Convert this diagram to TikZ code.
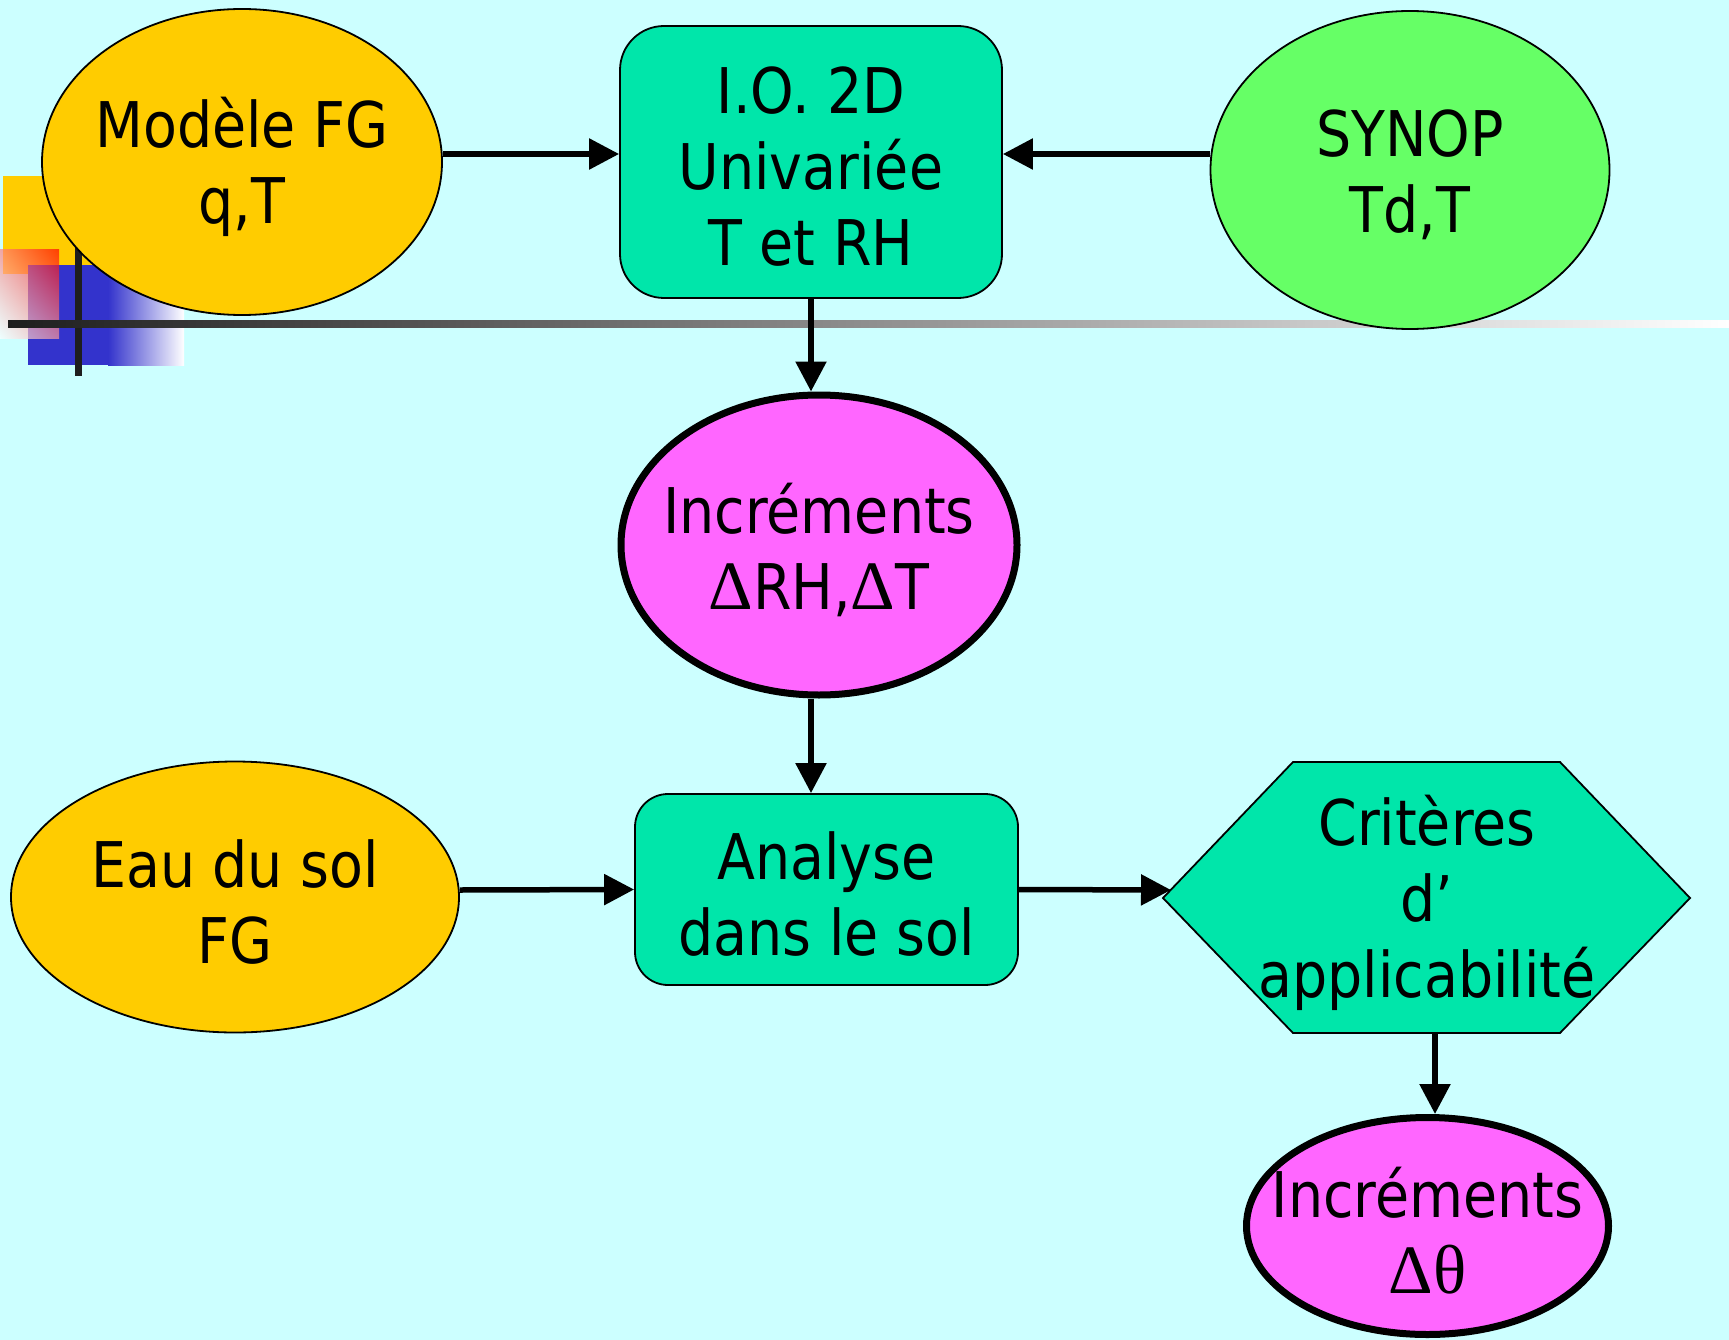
\documentclass[tikz,border=0pt]{standalone}
\usepackage{fontspec}
\setmainfont{DejaVu Sans}[FakeStretch=0.88]
\newfontfamily\grk{Liberation Serif}[Scale=1.1]
\usetikzlibrary{shapes.geometric,arrows.meta,shadings}
\definecolor{bgc}{HTML}{CCFFFF}
\definecolor{yel}{HTML}{FFCC00}
\definecolor{tealbox}{HTML}{00E6AA}
\definecolor{grn}{HTML}{66FF66}
\definecolor{mag}{HTML}{FF66FF}
\definecolor{blu}{HTML}{3333CC}
\definecolor{ink}{HTML}{1E1E1E}
\begin{document}
\begin{tikzpicture}[x=1pt,y=-1pt,
  lbl/.style={align=center,font=\fontsize{63}{76}\selectfont,inner sep=0pt,text=black,yshift=-5pt},
  oval/.style={ellipse,draw=black,line width=1.8pt,inner sep=0pt},
  bigoval/.style={ellipse,draw=black,line width=7pt,inner sep=0pt,fill=mag},
  box/.style={rectangle,draw=black,line width=1.8pt,inner sep=0pt,fill=tealbox},
  link/.style={line width=5.5pt,-{Triangle[length=30pt,width=30pt]}}]

% canvas
\fill[bgc] (0,0) rectangle (1729,1340);
\useasboundingbox (0,0) rectangle (1729,1340);

% corner ornament: squares, gradient bars and crossing lines
\fill[yel] (3,176) rectangle (101,274);
\fill[blu] (28,265) rectangle (109,365);
\shade[left color=blu, right color=white] (108,265) rectangle (184,365);
\shade[upper left=red!50!white, upper right=red, lower left=white, lower right=red!40!white, opacity=0.68]
  (0,250) rectangle (59,338);
\fill[ink] (75,200) rectangle (82,376);
\shade[left color=ink, right color=white] (8,320) rectangle (1729,327);

% upper row
\node[oval, fill=yel, minimum width=400pt, minimum height=306pt] (fg) at (242,162) {};
\node[lbl] (fg-t) at (fg) {Modèle FG\\q,T};

\node[box, rounded corners=44pt, minimum width=382pt, minimum height=272pt] (io) at (811,162) {};
\node[lbl] (io-t) at (io) {I.O. 2D\\Univariée\\T et RH};

\node[oval, fill=grn, minimum width=399pt, minimum height=318pt] (syn) at (1410,170) {};
\node[lbl] (syn-t) at (syn) {SYNOP\\Td,T};

% increments of the screen-level analysis
\node[bigoval, minimum width=396pt, minimum height=300pt] (inc1) at (819,545) {};
\node[lbl] (inc1-t) at (inc1) {Incréments\\{\grk Δ}RH,{\grk Δ}T};

% lower row
\node[oval, fill=yel, minimum width=448pt, minimum height=271pt] (eau) at (235,897) {};
\node[lbl] (eau-t) at (eau) {Eau du sol\\FG};

\node[box, rounded corners=33pt, minimum width=383pt, minimum height=191pt] (an) at (826.5,889.5) {};
\node[lbl] (an-t) at (an) {Analyse\\dans le sol};

% applicability hexagon
\coordinate (hexL) at (1163,898);
\coordinate (hexR) at (1690,898);
\fill[tealbox, draw=black, line width=1.8pt]
  (hexL) -- (1293,762) -- (1560,762) -- (hexR) -- (1560,1033) -- (1293,1033) -- cycle;
\coordinate (hexC) at (1427,898);
\coordinate (hexA) at (1171,890);
\coordinate (hexS) at (1435,1033);
\node[lbl] (crit-t) at (hexC) {Critères\\d’\\applicabilité};

\node[bigoval, minimum width=362pt, minimum height=217pt] (inc2) at (1427.5,1226) {};
\node[lbl] (inc2-t) at (inc2) {Incréments\\{\grk Δθ}};

% connectors
\draw[link] ([yshift=8pt]fg.east) -- ([yshift=8pt]io.west);
\draw[link] ([yshift=16pt]syn.west) -- ([yshift=8pt]io.east);
\draw[link] (io.south) -- (io.south |- inc1.north);
\draw[link] (io.south |- inc1.south) -- (io.south |- an.north);
\draw[link] ([yshift=7pt]eau.east) -- (an.west);
\draw[link] (an.east) -- (hexA);
\draw[link] (hexS) -- (hexS |- inc2.north);
\end{tikzpicture}
\end{document}
